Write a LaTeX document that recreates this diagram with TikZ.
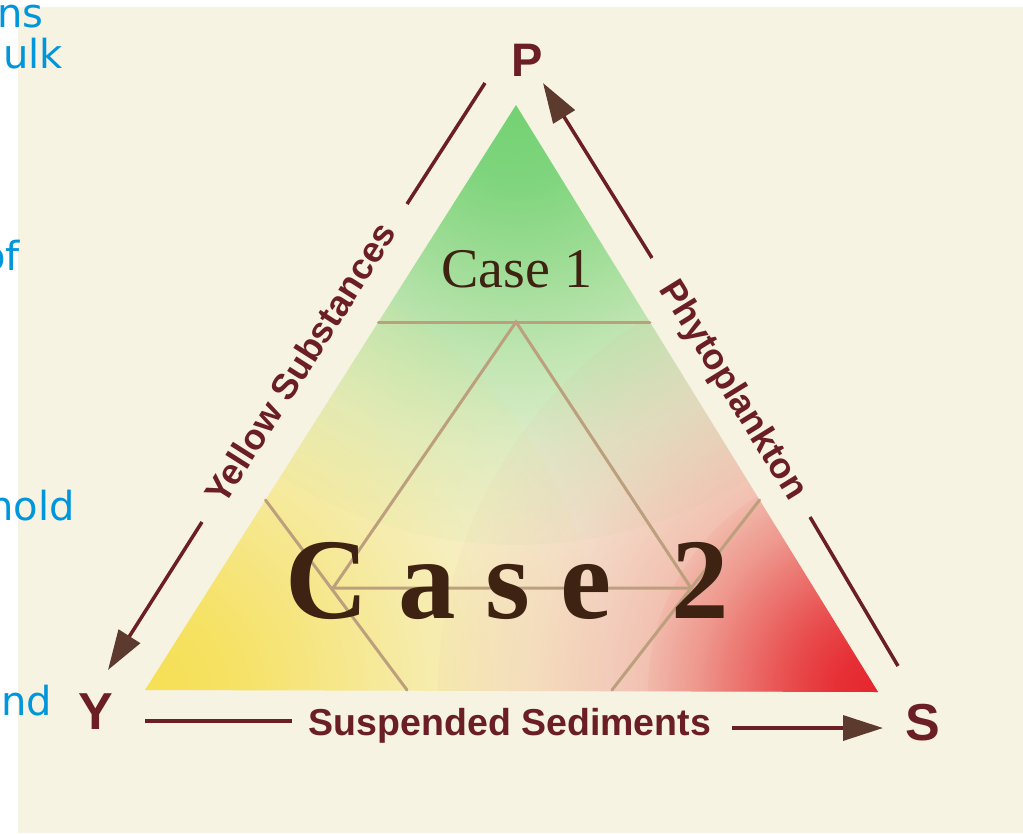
\documentclass[tikz,border=0pt]{standalone}
\usepackage{fontspec}
\setmainfont{Liberation Serif}
\newfontfamily\labelfont{Liberation Sans}
\newfontfamily\notefont{DejaVu Sans}
\usetikzlibrary{arrows.meta,fadings}

\definecolor{paper}{RGB}{247,243,226}
\definecolor{maroon}{RGB}{107,31,36}
\definecolor{tipbrown}{RGB}{92,58,46}
\definecolor{casebrown}{RGB}{62,34,18}
\definecolor{gridtan}{RGB}{188,160,125}
\definecolor{noteblue}{RGB}{0,150,220}
\definecolor{leafgreen}{RGB}{115,210,115}
\definecolor{sunyellow}{RGB}{247,224,85}
\definecolor{sedred}{RGB}{230,38,46}
\definecolor{salmon}{RGB}{238,135,125}
\definecolor{core}{RGB}{246,243,222}

% soft radial glow: opaque in the middle, easing out to clear at 1cm
% (fit fading maps that 1cm onto the radius of the faded circle)
\pgfdeclareradialshading{softglowshade}{\pgfpoint{0bp}{0bp}}{%
  rgb(0bp)=(1,1,1); rgb(4.5bp)=(0.9,0.9,0.9); rgb(9bp)=(0.68,0.68,0.68);
  rgb(14bp)=(0.42,0.42,0.42); rgb(19.5bp)=(0.18,0.18,0.18);
  rgb(24.5bp)=(0.05,0.05,0.05); rgb(28bp)=(0,0,0); rgb(50bp)=(0,0,0)}
\pgfdeclarefading{softglow}{\pgfuseshading{softglowshade}}

\begin{document}
\begin{tikzpicture}[x=1pt,y=-1pt,
  axisline/.style={draw=maroon, line width=3.5pt},
  tipped/.style={axisline, -{Triangle[length=40pt,width=25pt,fill=tipbrown,color=tipbrown]}},
  vertexlabel/.style={font=\labelfont\bfseries\fontsize{52}{52}\selectfont, text=maroon, inner sep=0pt},
  sidelabel/.style={font=\labelfont\bfseries\fontsize{36}{36}\selectfont, text=maroon, inner sep=0pt},
  finegrid/.style={draw=gridtan, line width=3pt, line cap=round},
  note/.style={font=\notefont\fontsize{40}{40}\selectfont, text=noteblue, anchor=base east, inner sep=0pt}]

\useasboundingbox (0,0) rectangle (1023,833);

% sheet
\fill[white] (0,0) rectangle (1023,833);
\fill[paper] (18,7) rectangle (1023,833);

% coloured ternary triangle
\coordinate (top) at (516,105);
\coordinate (bl) at (145,690);
\coordinate (br) at (878,692);
\begin{scope}
  \clip (top) -- (bl) -- (br) -- cycle;
  \fill[core] (0,0) rectangle (1023,833);
  \fill[leafgreen, path fading=softglow] (top) circle (440);
  \fill[sunyellow, path fading=softglow] (bl) circle (460);
  \fill[salmon, path fading=softglow] (br) circle (440);
  \fill[sedred, path fading=softglow] (br) circle (230);
\end{scope}

% dividing lines
\coordinate (c1l) at (378.4,322);
\coordinate (c1r) at (649.8,322);
\coordinate (ia) at (516,322);
\coordinate (il) at (333,588);
\coordinate (ir) at (691,588);
\draw[finegrid] (c1l) -- (c1r);
\draw[finegrid] (il) -- (ia) -- (ir) -- cycle;
\coordinate (ll1) at (265.5,500);
\coordinate (ll2) at (407,690);
\coordinate (rl1) at (759.6,500);
\coordinate (rl2) at (612,690);
\draw[finegrid] (ll1) -- (ll2);
\draw[finegrid] (rl1) -- (rl2);

% case labels
\node[font=\fontsize{56}{56}\selectfont, text=casebrown, anchor=base, inner sep=0pt] (case1) at (517,287) {Case 1};
\node[font=\bfseries\fontsize{115}{115}\selectfont, text=casebrown, anchor=base, inner sep=0pt] (case2) at (507,618)
  {C\kern30pt a\kern30pt s\kern30pt e\kern60pt 2};

% vertices
\node[vertexlabel, font=\labelfont\bfseries\fontsize{47}{47}\selectfont] (P) at (527,60) {P};
\node[vertexlabel] (Y) at (96,712) {Y};
\node[vertexlabel] (S) at (923,723) {S};

% side labels
\node[sidelabel, rotate=57.6] (yellow) at (300,363) {Yellow Substances};
\node[sidelabel, rotate=-58.3] (phyto) at (732,391) {Phytoplankton};
\node[sidelabel, anchor=base, font=\labelfont\bfseries\fontsize{37.5}{37.5}\selectfont] (sed) at (510,735) {Suspended Sediments};

% axis arrows
\coordinate (l1) at (485,83);
\coordinate (l2) at (407,204);
\coordinate (l3) at (202,522);
\coordinate (l4) at (108,670);
\draw[axisline] (l1) -- (l2);
\draw[tipped] (l3) -- (l4);

\coordinate (r1) at (652,258);
\coordinate (r2) at (543,83);
\coordinate (r3) at (810,517);
\coordinate (r4) at (898,666);
\draw[tipped] (r1) -- (r2);
\draw[axisline] (r3) -- (r4);

\coordinate (b1) at (145,721);
\coordinate (b2) at (292,721);
\coordinate (b3) at (732,728);
\coordinate (b4) at (883,728);
\draw[axisline] (b1) -- (b2);
\draw[tipped] (b3) -- (b4);

% overlapping slide text at the left edge
\begin{scope}
  \clip (0,0) rectangle (1023,833);
  \node[note] (n1) at (44,27) {ns};
  \node[note] (n2) at (63,68) {ulk};
  \node[note] (n3) at (20,270) {of};
  \node[note] (n4) at (75,520) {hold};
  \node[note] (n5) at (52,715) {nd};
\end{scope}
\end{tikzpicture}
\end{document}
